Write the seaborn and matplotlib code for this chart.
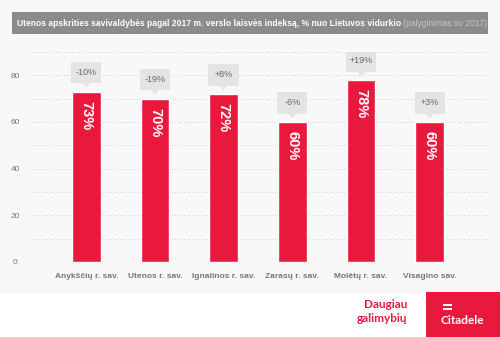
import matplotlib
matplotlib.use("Agg")
import matplotlib.pyplot as plt
import seaborn as sns
import pandas as pd
from matplotlib.patches import Rectangle, Polygon
from matplotlib.ticker import MultipleLocator, FixedLocator

# Data
municipalities = ["Anykščių r. sav.", "Utenos r. sav.", "Ignalinos r. sav.",
                  "Zarasų r. sav.", "Molėtų r. sav.", "Visagino sav."]
index_values = [73, 70, 72, 60, 78, 60]
change_labels = ["-10%", "-19%", "+8%", "-6%", "+19%", "+3%"]
y_ticks = [0, 20, 40, 60, 80]

RED = "#e8193c"
BG = "#f8f8f8"
GRID = "#c4c4c4"
TXT = "#767676"

sns.set_theme(style="white")
plt.rcParams["font.family"] = ["Liberation Sans", "DejaVu Sans"]

df = pd.DataFrame({"sav": municipalities, "val": index_values})

fig = plt.figure(figsize=(5.0, 3.37), dpi=100, facecolor=BG)

# White footer band and brand block
fig.patches.append(Rectangle((0, 0), 1, 44 / 337, transform=fig.transFigure,
                             facecolor="white", edgecolor="none", zorder=0))
fig.patches.append(Rectangle((426 / 500, 0), 74 / 500, 45 / 337, transform=fig.transFigure,
                             facecolor=RED, edgecolor="none", zorder=1))

# Title bar
fig.patches.append(Rectangle((12 / 500, 1 - 34 / 337), 476 / 500, 22 / 337,
                             transform=fig.transFigure, facecolor="#8b8b8b",
                             edgecolor="none", zorder=1))
t1 = fig.text(17 / 500, 1 - 23 / 337,
              "Utenos apskrities savivaldybės pagal 2017 m. verslo laisvės indeksą, % nuo Lietuvos vidurkio",
              color="white", fontsize=6.15, fontweight="bold", va="center", ha="left")

ax = fig.add_axes([32 / 500, 1 - 262 / 337, 456 / 500, 210 / 337])
ax.set_facecolor(BG)

sns.barplot(data=df, x="sav", y="val", color=RED, width=0.42, saturation=1,
            ax=ax, zorder=3)

ax.set_xlim(-0.79, 5.85)
ax.set_ylim(0, 90)
ax.yaxis.set_major_locator(FixedLocator(y_ticks))
ax.yaxis.set_minor_locator(MultipleLocator(10))
ax.grid(True, which="both", axis="y", color=GRID, linestyle=(0, (0.8, 2.2)),
        linewidth=0.7, zorder=0)
ax.grid(False, axis="x")
for s in ax.spines.values():
    s.set_visible(False)
ax.set_xlabel("")
ax.set_ylabel("")
ax.tick_params(axis="y", which="both", length=0, labelsize=6, labelcolor=TXT, pad=8)
ax.tick_params(axis="x", length=0, labelsize=6, labelcolor=TXT, pad=8)
for lab in ax.get_yticklabels():
    lab.set_horizontalalignment("center")
ax.yaxis.set_tick_params(pad=12)
for lab in ax.get_xticklabels():
    lab.set_fontweight("bold")

# Value labels inside bars and change callouts above them
bw = 0.44
for i, (v, c) in enumerate(zip(index_values, change_labels)):
    ax.text(i, v - 4.0, f"{v}%", rotation=270, color="white", fontsize=10.5,
            fontweight="bold", ha="center", va="top", zorder=5)
    ax.add_patch(Rectangle((i - bw / 2, v + 3.6), bw, 9.2, facecolor="#e4e4e4",
                           edgecolor="none", zorder=4))
    ax.add_patch(Polygon([(i - 0.06, v + 3.6), (i + 0.06, v + 3.6), (i, v + 1.6)],
                         closed=True, facecolor="#e4e4e4", edgecolor="none", zorder=4))
    ax.text(i, v + 8.2, c, color="#6a6a6a", fontsize=6.5, ha="center", va="center",
            zorder=5)

# Subtitle appended after the bold title
fig.canvas.draw()
bb = t1.get_window_extent()
fig.text(bb.x1 / fig.bbox.width + 2 / 500, 1 - 23 / 337, "(palyginimas su 2017)",
         color="#c4c4c4", fontsize=6.15, va="center", ha="left")

# Footer branding
brand = ["Lato", "DejaVu Sans"]
fig.text(407 / 500, 1 - 304 / 337, "Daugiau", color=RED, fontsize=8.5,
         fontweight="bold", ha="right", va="center", family=brand)
fig.text(407 / 500, 1 - 318 / 337, "galimybių", color=RED, fontsize=8.5,
         fontweight="bold", ha="right", va="center", family=brand)
fig.text(462 / 500, 1 - 320 / 337, "Citadele", color="white", fontsize=8.5,
         fontweight="bold", ha="center", va="center", family=brand)
for yy in (305.5, 310.0):
    fig.patches.append(Rectangle((443 / 500, 1 - yy / 337), 9 / 500, 1.8 / 337,
                                 transform=fig.transFigure, facecolor="white",
                                 edgecolor="none", zorder=2))

fig.savefig("out.png", dpi=100, facecolor=BG)
